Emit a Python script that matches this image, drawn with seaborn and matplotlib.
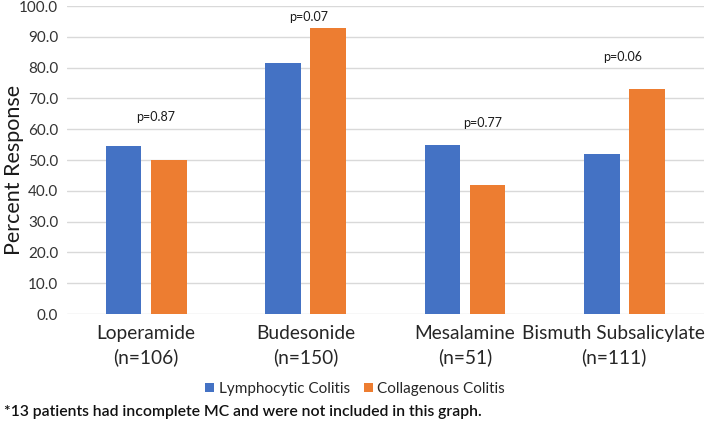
import matplotlib
matplotlib.use("Agg")
import matplotlib.pyplot as plt
import matplotlib.transforms as mtransforms
import seaborn as sns
import pandas as pd
from matplotlib.patches import Patch

categories = ["Loperamide\n(n=106)", "Budesonide\n(n=150)", "Mesalamine\n(n=51)", "Bismuth Subsalicylate\n(n=111)"]
series_names = ["Lymphocytic Colitis", "Collagenous Colitis"]
lymphocytic = [54.7, 81.5, 55.0, 51.9]
collagenous = [49.9, 93.0, 42.0, 73.0]
p_labels = ["p=0.87", "p=0.07", "p=0.77", "p=0.06"]
y_ticks = [0, 10, 20, 30, 40, 50, 60, 70, 80, 90, 100]
footnote = "*13 patients had incomplete MC and were not included in this graph."

# annotation layout (positions in data coords)
p_pos = [(0.06, 64.0), (1.02, 96.5), (2.11, 61.9), (2.99, 83.3)]

colors = ["#4472C4", "#ED7D31"]

df = pd.DataFrame({
    "category": categories * 2,
    "series": [series_names[0]] * 4 + [series_names[1]] * 4,
    "value": lymphocytic + collagenous,
})

sns.set_theme(style="white")
plt.rcParams["font.family"] = ["Lato", "DejaVu Sans"]

fig = plt.figure(figsize=(7.08, 4.24), dpi=100)
ax = fig.add_axes([66.5 / 708, 1 - 314 / 424, (704 - 66.5) / 708, (314 - 6) / 424])

sns.barplot(data=df, x="category", y="value", hue="series", palette=colors,
            width=0.566, gap=0.21, ax=ax, legend=False, saturation=1, linewidth=0)

ax.set_ylim(0, 100)
ax.set_xlim(-0.5, 3.5)
ax.set_yticks(y_ticks)
ax.set_yticklabels([f"{t:.1f}" for t in y_ticks], fontsize=11, color="#333333")
ax.tick_params(axis="y", length=0, pad=6)
ax.tick_params(axis="x", length=0, pad=8, labelsize=13.8)
for lab in ax.get_xticklabels():
    lab.set_color("#262626")
    lab.set_linespacing(1.4)
# Excel nudges the last (long) label left to keep it inside the chart area
last = ax.get_xticklabels()[-1]
last.set_transform(last.get_transform() + mtransforms.ScaledTranslation(-11 / 100, 0, fig.dpi_scale_trans))

ax.yaxis.grid(True, color="#D9D9D9", linewidth=1)
ax.set_axisbelow(True)
for s in ax.spines.values():
    s.set_visible(False)
ax.set_xlabel("")
ax.set_ylabel("Percent Response", fontsize=15.5, color="#1a1a1a")
ax.yaxis.set_label_coords(-42 / 637.5, 0.468)

for txt, (x, y) in zip(p_labels, p_pos):
    ax.text(x, y, txt, ha="center", va="center", fontsize=9, color="#1a1a1a")

handles = [Patch(facecolor=c, edgecolor="none") for c in colors]
fig.legend(handles, series_names, loc="center", bbox_to_anchor=(355 / 708, 1 - 389 / 424),
           ncol=2, frameon=False, fontsize=11, handlelength=0.6, handleheight=0.6,
           handletextpad=0.3, columnspacing=0.9, labelcolor="#262626")

fig.text(4 / 708, 1 - 412 / 424, footnote, ha="left", va="center", fontsize=11.3,
         fontweight="semibold", color="#111111")

fig.savefig("out.png", dpi=100)
